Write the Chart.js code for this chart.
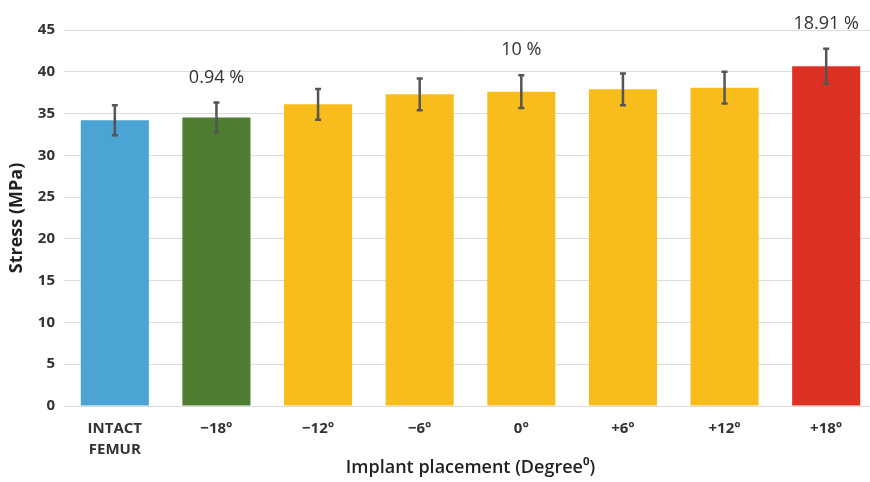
<!DOCTYPE html>
<html>
<head>
<meta charset="utf-8">
<script src="https://cdn.jsdelivr.net/npm/chart.js@4"></script>
<style>
  html, body { margin: 0; padding: 0; background: #fff; overflow: hidden; }
  #wrap { width: 870px; height: 482px; overflow: hidden; }
</style>
</head>
<body>
<div id="wrap"><canvas id="chart" width="880" height="482"></canvas></div>
<script>
const placements = [["INTACT", "FEMUR"], "\u221218\u00b0", "\u221212\u00b0", "\u22126\u00b0", "0\u00b0", "+6\u00b0", "+12\u00b0", "+18\u00b0"];
const stress = [34.2, 34.52, 36.1, 37.3, 37.62, 37.9, 38.1, 40.67];
const stressErr = [1.8, 1.8, 1.85, 1.9, 1.95, 1.9, 1.9, 2.1];
const changeLabels = ["", "0.94 %", "", "", "10 %", "", "", "18.91 %"];
const barColors = ["#4ba4d4", "#4f7e33", "#f8bc1b", "#f8bc1b", "#f8bc1b", "#f8bc1b", "#f8bc1b", "#dd3124"];

const fontFamily = "'Open Sans', 'DejaVu Sans', sans-serif";

// error bars and percentage labels on top of the bars
const errorBars = {
    id: "errorBars",
    afterDatasetsDraw(chart) {
        const c = chart.ctx;
        const y = chart.scales.y;
        const meta = chart.getDatasetMeta(0);
        c.save();
        meta.data.forEach((bar, i) => {
            const hi = y.getPixelForValue(stress[i] + stressErr[i]);
            const lo = y.getPixelForValue(stress[i] - stressErr[i]);
            c.strokeStyle = "#555";
            c.lineWidth = 2.5;
            c.beginPath();
            c.moveTo(bar.x, hi);
            c.lineTo(bar.x, lo);
            c.moveTo(bar.x - 3, hi);
            c.lineTo(bar.x + 3, hi);
            c.moveTo(bar.x - 3, lo);
            c.lineTo(bar.x + 3, lo);
            c.stroke();

            if (changeLabels[i]) {
                c.fillStyle = "#333";
                c.font = "18px " + fontFamily;
                c.textAlign = "center";
                c.textBaseline = "middle";
                c.fillText(changeLabels[i], bar.x, hi - 25);
            }
        });
        c.restore();
    }
};

new Chart(document.getElementById("chart"), {
    type: "bar",
    data: {
        labels: placements,
        datasets: [{
            data: stress,
            backgroundColor: barColors,
            borderWidth: 0,
            barPercentage: 0.67,
            categoryPercentage: 1
        }]
    },
    options: {
        responsive: false,
        animation: false,
        layout: { padding: { top: 30, right: 3, left: 0, bottom: 0 } },
        plugins: {
            legend: { display: false },
            tooltip: { enabled: false }
        },
        scales: {
            x: {
                afterFit(scale) { scale.height = 76; },
                grid: { display: false },
                border: { display: false },
                ticks: {
                    color: "#333",
                    padding: 5,
                    maxRotation: 0,
                    font: { family: fontFamily, size: 15, weight: "bold", lineHeight: 1.35 }
                },
                title: {
                    display: true,
                    text: "Implant placement (Degree\u2070)",
                    color: "#222",
                    padding: { top: 0, bottom: 3 },
                    font: { family: fontFamily, size: 18, weight: "600" }
                }
            },
            y: {
                min: 0,
                max: 45,
                afterFit(scale) { scale.width = 64; },
                grid: { color: "#dcdcdc", lineWidth: 1, drawTicks: false },
                border: { display: false },
                ticks: {
                    stepSize: 5,
                    color: "#333",
                    padding: 9,
                    font: { family: fontFamily, size: 15, weight: "bold" }
                },
                title: {
                    display: true,
                    text: "Stress (MPa)",
                    color: "#222",
                    padding: { top: 6, bottom: 0 },
                    font: { family: fontFamily, size: 18, weight: "bold" }
                }
            }
        }
    },
    plugins: [errorBars]
});
</script>
</body>
</html>
